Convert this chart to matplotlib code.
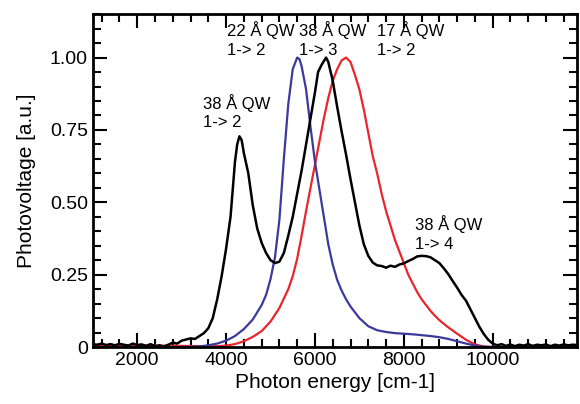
import matplotlib
matplotlib.use("Agg")
import matplotlib.pyplot as plt
from matplotlib.ticker import MultipleLocator, FixedLocator

plt.rcParams['font.family'] = ['Liberation Sans', 'DejaVu Sans']

# 38 Å QW (black)
x_black = [1000, 1100, 1200, 1300, 1400, 1500, 1600, 1700, 1800, 1900, 2000, 2100, 2200, 2300,
           2400, 2500, 2600, 2700, 2800, 2900, 3000, 3100, 3200, 3300, 3400, 3500, 3600, 3700,
           3800, 3900, 4000, 4100, 4200, 4250, 4300, 4350, 4400, 4500, 4600, 4700, 4800, 4900,
           5000, 5100, 5200, 5300, 5400, 5500, 5600, 5700, 5800, 5900, 6000, 6070, 6150, 6250,
           6300, 6400, 6500, 6600, 6700, 6800, 6900, 7000, 7100, 7200, 7300, 7400, 7500, 7600,
           7700, 7800, 7900, 8000, 8100, 8200, 8300, 8400, 8500, 8600, 8700, 8800, 8900, 9000,
           9100, 9200, 9300, 9400, 9500, 9600, 9700, 9800, 9900, 10000, 10100, 10200, 10300,
           10400, 10500, 10600, 10700, 10800, 10900, 11000, 11100, 11200, 11300, 11400, 11500,
           11600, 11700, 11800, 11900]
y_black = [0.010, 0.008, 0.012, 0.007, 0.010, 0.006, 0.011, 0.008, 0.005, 0.012, 0.007, 0.009,
           0.004, 0.010, 0.003, 0.006, 0.002, 0.008, 0.015, 0.012, 0.022, 0.026, 0.030, 0.028,
           0.038, 0.048, 0.065, 0.100, 0.165, 0.245, 0.340, 0.450, 0.640, 0.700, 0.728, 0.715,
           0.670, 0.600, 0.490, 0.410, 0.360, 0.325, 0.300, 0.290, 0.295, 0.325, 0.385, 0.450,
           0.530, 0.610, 0.700, 0.790, 0.880, 0.950, 0.975, 1.000, 0.985, 0.920, 0.830, 0.745,
           0.665, 0.580, 0.500, 0.420, 0.355, 0.315, 0.292, 0.282, 0.280, 0.274, 0.281, 0.277,
           0.285, 0.289, 0.297, 0.304, 0.313, 0.315, 0.314, 0.310, 0.300, 0.290, 0.272, 0.252,
           0.228, 0.205, 0.180, 0.160, 0.130, 0.100, 0.070, 0.045, 0.025, 0.012, 0.006, 0.010,
           0.004, 0.009, 0.003, 0.008, 0.005, 0.010, 0.004, 0.008, 0.006, 0.009, 0.003, 0.008,
           0.005, 0.009, 0.006, 0.008, 0.007]

# 22 Å QW (blue)
x_blue = [1000, 2000, 3000, 3400, 3600, 3800, 4000, 4200, 4400, 4600, 4800, 4900, 5000, 5100,
          5200, 5300, 5400, 5500, 5600, 5650, 5700, 5800, 5900, 6000, 6100, 6200, 6300, 6400,
          6500, 6600, 6700, 6800, 6900, 7000, 7200, 7400, 7600, 7800, 8000, 8200, 8400, 8600,
          8800, 9000, 9200, 9400, 9600, 9800, 10000, 11000, 11900]
y_blue = [0.000, 0.000, 0.000, 0.002, 0.006, 0.012, 0.022, 0.038, 0.062, 0.095, 0.145, 0.180,
          0.235, 0.310, 0.440, 0.650, 0.840, 0.960, 1.000, 0.995, 0.970, 0.890, 0.760, 0.640,
          0.545, 0.450, 0.355, 0.285, 0.232, 0.195, 0.165, 0.140, 0.120, 0.100, 0.072, 0.058,
          0.052, 0.048, 0.046, 0.044, 0.041, 0.038, 0.034, 0.028, 0.020, 0.012, 0.005, 0.001,
          0.000, 0.000, 0.000]

# 17 Å QW (red)
x_red = [1000, 2000, 3000, 3400, 3800, 4000, 4200, 4400, 4600, 4800, 5000, 5200, 5400, 5500,
         5600, 5700, 5800, 5900, 6000, 6100, 6200, 6300, 6400, 6500, 6600, 6700, 6800, 6900,
         7000, 7100, 7200, 7300, 7400, 7500, 7600, 7700, 7800, 7900, 8000, 8100, 8200, 8300,
         8400, 8500, 8600, 8700, 8800, 8900, 9000, 9200, 9400, 9600, 9800, 10000, 11000, 11900]
y_red = [0.005, 0.005, 0.004, 0.003, 0.003, 0.005, 0.010, 0.020, 0.035, 0.055, 0.088, 0.135,
         0.200, 0.245, 0.305, 0.385, 0.470, 0.550, 0.630, 0.710, 0.790, 0.860, 0.920, 0.960,
         0.990, 1.000, 0.985, 0.940, 0.890, 0.820, 0.740, 0.660, 0.600, 0.530, 0.470, 0.420,
         0.370, 0.330, 0.290, 0.250, 0.220, 0.190, 0.165, 0.145, 0.125, 0.108, 0.093, 0.080,
         0.068, 0.046, 0.025, 0.009, 0.002, 0.000, 0.003, 0.003]

annotations = [
    ("38 Å QW\n1-> 2", 3470, 0.875),
    ("22 Å QW\n1-> 2", 4030, 1.125),
    ("38 Å QW\n1-> 3", 5650, 1.125),
    ("17 Å QW\n1-> 2", 7390, 1.125),
    ("38 Å QW\n1-> 4", 8250, 0.455),
]

fig = plt.figure(figsize=(5.8, 4.04), dpi=100)
ax = fig.add_axes([0.160, 0.141, 0.835, 0.824])

ax.plot(x_red, y_red, color='#e8262c', lw=1.6)
ax.plot(x_blue, y_blue, color='#3b3a9c', lw=1.6)
ax.plot(x_black, y_black, color='black', lw=1.8)

ax.set_xlim(1000, 11900)
ax.set_ylim(0, 1.15)
ax.xaxis.set_major_locator(FixedLocator([2000, 4000, 6000, 8000, 10000]))
ax.xaxis.set_minor_locator(MultipleLocator(400))
ax.yaxis.set_major_locator(FixedLocator([0, 0.25, 0.5, 0.75, 1.0]))
ax.yaxis.set_minor_locator(MultipleLocator(0.05))
ax.set_yticklabels(["0", "0.25", "0.50", "0.75", "1.00"])

ax.tick_params(which='both', direction='in', top=True, right=True, labelsize=14, width=1.5)
ax.tick_params(which='major', length=10)
ax.tick_params(which='minor', length=6)
for s in ax.spines.values():
    s.set_linewidth(2)

ax.set_xlabel("Photon energy [cm-1]", fontsize=15, labelpad=3)
ax.set_ylabel("Photovoltage [a.u.]", fontsize=15, labelpad=10)

for txt, x, y in annotations:
    ax.text(x, y, txt, fontsize=12, ha='left', va='top', linespacing=1.3)

fig.savefig("out.png", dpi=100)
